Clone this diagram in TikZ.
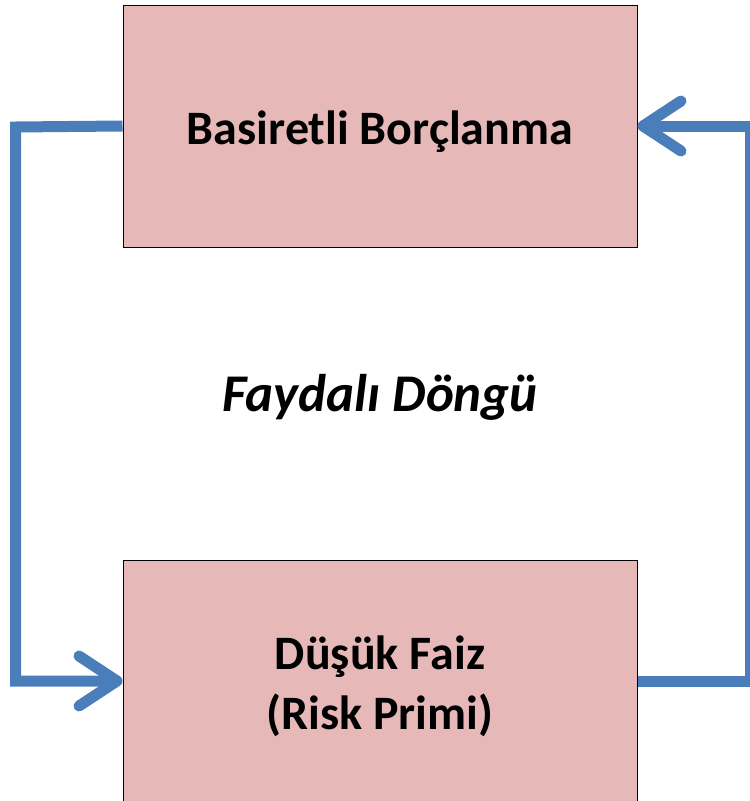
\documentclass[tikz,border=0pt]{standalone}
\usepackage{fontspec}
\setmainfont{Carlito}
\usetikzlibrary{arrows.meta}
\definecolor{boxfill}{HTML}{E6B9B8}
\definecolor{loopblue}{HTML}{4A7EBB}
\tikzset{
    stagebox/.style={draw=black, line width=1pt, fill=boxfill, minimum width=514pt, minimum height=242pt,
        inner sep=0pt},
    stagetext/.style={align=center, font=\fontsize{48}{60}\selectfont\bfseries},
    loopline/.style={draw=loopblue, line width=11pt, line join=miter,
        -{Straight Barb[length=38pt, width=50pt, round]}}
}
\begin{document}
\begin{tikzpicture}[x=1pt, y=-1pt]
        \useasboundingbox (0,0) rectangle (750,801);
        % Boxes
        \node[stagebox] (borc) at (380,126) {};
        \node[stagebox] (faiz) at (380,681) {};
        \node[stagetext] (borctext) at ([yshift=-6pt]borc.center) {Basiretli Borçlanma};
        \node[stagetext] (faiztext) at ([yshift=-5pt]faiz.center) {Düşük Faiz\\(Risk Primi)};
        % Corner points of the loop
        \coordinate (LT) at (15.5,127);
        \coordinate (RB) at (750,681);

        \draw[loopline] (borc.west) -- (LT) |- (faiz.west);
        \draw[loopline] (faiz.east) -- (RB) |- (borc.east);

        \node[font=\fontsize{53}{60}\selectfont\bfseries\itshape] (label) at (380,397) {Faydalı Döngü};
    \end{tikzpicture}
\end{document}
